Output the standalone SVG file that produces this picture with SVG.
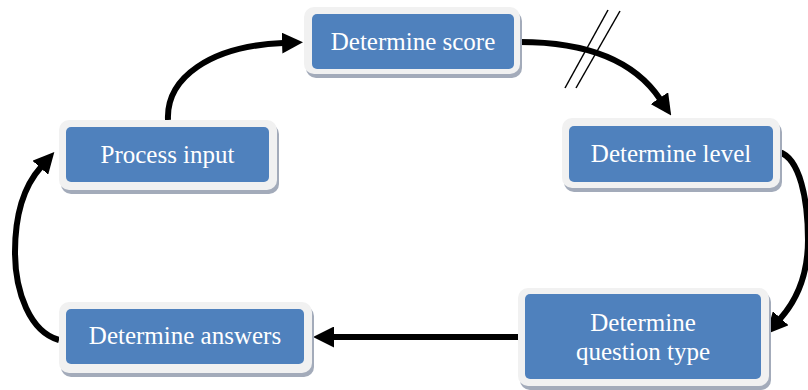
<svg xmlns="http://www.w3.org/2000/svg" width="808" height="390" viewBox="0 0 808 390">
<defs>
<style>
.shadow{fill:#a3abba}
.frame{fill:#f1f1f1}
.box{fill:#4f81bd}
.lbl{font-family:"Liberation Serif","Times New Roman",serif;font-size:25px;fill:#ffffff;text-anchor:middle}
.conn{fill:none;stroke:#000000;stroke-width:6}
.slash{fill:none;stroke:#000000;stroke-width:1.5}
</style>
<marker id="arr" viewBox="0 0 21 21" refX="1" refY="10.5" markerWidth="21" markerHeight="21" markerUnits="userSpaceOnUse" orient="auto">
<path d="M0,0 L21,10.5 L0,21 Z" fill="#000000"/>
</marker>
</defs>
<rect width="808" height="390" fill="#ffffff"/>
<g id="connectors">
<path class="conn" d="M168,120 C166,78 210,46 283,43" marker-end="url(#arr)"/>
<path class="conn" d="M520,42 C590,42 635,62 660,99" marker-end="url(#arr)"/>
<path class="conn" d="M779,152 C800,158 808,200 808,240 C808,276 797,300 780,319" marker-end="url(#arr)"/>
<path class="conn" d="M518,337 L333,337" marker-end="url(#arr)"/>
<path class="conn" d="M59,340 C30,332 15,292 15,252 C15,212 24,186 41,167" marker-end="url(#arr)"/>
<line class="slash" x1="565" y1="88" x2="608" y2="10"/>
<line class="slash" x1="576" y1="88" x2="620" y2="11"/>
</g>
<g id="determine-score">
<rect class="shadow" x="306" y="11" width="216" height="67" rx="10"/>
<rect class="frame" x="304" y="7" width="216" height="67" rx="10"/>
<rect class="box" x="312" y="14" width="202" height="55" rx="5"/>
<text class="lbl" x="413" y="50">Determine score</text>
</g>
<g id="process-input">
<rect class="shadow" x="61" y="124" width="218" height="70" rx="10"/>
<rect class="frame" x="59" y="120" width="218" height="70" rx="10"/>
<rect class="box" x="66" y="127" width="203" height="55" rx="5"/>
<text class="lbl" x="167.5" y="163">Process input</text>
</g>
<g id="determine-level">
<rect class="shadow" x="564" y="122" width="218" height="70" rx="10"/>
<rect class="frame" x="562" y="118" width="218" height="70" rx="10"/>
<rect class="box" x="569" y="126" width="204" height="56" rx="5"/>
<text class="lbl" x="671" y="162">Determine level</text>
</g>
<g id="determine-question-type">
<rect class="shadow" x="520" y="292" width="251" height="98" rx="10"/>
<rect class="frame" x="518" y="288" width="251" height="98" rx="10"/>
<rect class="box" x="525" y="294" width="236" height="85" rx="5"/>
<text class="lbl" x="643" y="331">Determine</text>
<text class="lbl" x="643" y="360">question type</text>
</g>
<g id="determine-answers">
<rect class="shadow" x="61" y="306" width="253" height="71" rx="10"/>
<rect class="frame" x="59" y="302" width="253" height="71" rx="10"/>
<rect class="box" x="66" y="309" width="238" height="55" rx="5"/>
<text class="lbl" x="185" y="344">Determine answers</text>
</g>
</svg>
